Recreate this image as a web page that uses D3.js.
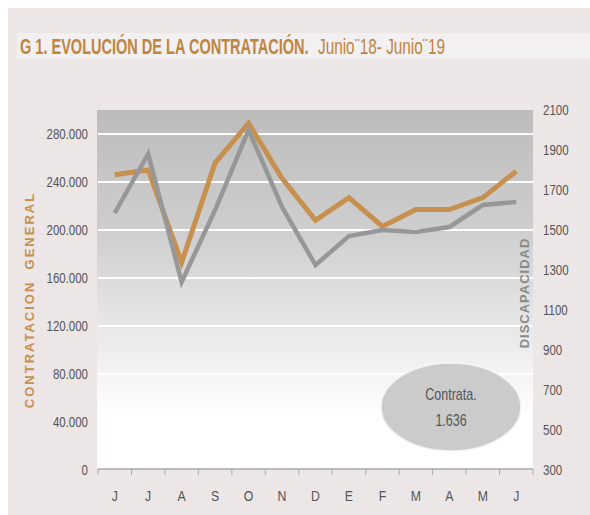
<!DOCTYPE html>
<html><head><meta charset="utf-8">
<script src="https://cdn.jsdelivr.net/npm/d3@7/dist/d3.min.js"></script>
<style>body{margin:0;background:#fff}</style>
</head><body>
<svg id="c" width="590" height="515"></svg>
<script>
const months = ["J","J","A","S","O","N","D","E","F","M","A","M","J"];
const general = [246000,250000,173000,256000,289000,243000,208000,227000,203000,217000,217000,227000,249000];
const discapacidad = [1585,1880,1240,1600,2000,1615,1325,1470,1500,1490,1515,1625,1640];
const leftTicks = [0,40000,80000,120000,160000,200000,240000,280000];
const rightTicks = [300,500,700,900,1100,1300,1500,1700,1900,2100];
const titleBold = "G 1. EVOLUCIÓN DE LA CONTRATACIÓN.";
const titleRest = "Junio¨18- Junio¨19";
const bubble = ["Contrata.","1.636"];

const svg = d3.select("#c");
const sans = "'Liberation Sans',Arial,sans-serif";
const orange = "#c8904f", gray = "#979797";

svg.append("rect").attr("x",8).attr("y",8).attr("width",582).attr("height",507).attr("fill","#ece6e6");
svg.append("rect").attr("x",17).attr("y",33).attr("width",573).attr("height",26).attr("fill","#f2f0f0");

function fitText(str, x, y, w, bold){
  const el = svg.append("text").attr("font-family",sans).attr("font-size",22)
    .attr("font-weight",bold?"bold":"normal").attr("fill","#c0843f").text(str);
  const L = el.node().getComputedTextLength();
  el.attr("transform",`translate(${x},${y}) scale(${w/L},1)`);
}
fitText(titleBold,20,54,289,true);
fitText(titleRest,318,54,127,false);

const x0=98, x1=533, yTop=110, yBot=470;
const defs = svg.append("defs");
const g = defs.append("linearGradient").attr("id","bg").attr("x1",0).attr("y1",0).attr("x2",0).attr("y2",1);
g.append("stop").attr("offset","0").attr("stop-color","#bcbcbc");
g.append("stop").attr("offset","0.35").attr("stop-color","#cfcfcf");
g.append("stop").attr("offset","0.85").attr("stop-color","#ffffff");
g.append("stop").attr("offset","1").attr("stop-color","#ffffff");
svg.append("rect").attr("x",x0-1).attr("y",yTop).attr("width",x1-x0+1).attr("height",yBot-yTop-1).attr("fill","url(#bg)");

const x = d3.scaleBand().domain(d3.range(months.length)).range([x0,x1]);
const yL = d3.scaleLinear().domain([0,300000]).range([yBot,yTop]);
const yR = d3.scaleLinear().domain([300,2100]).range([yBot,yTop]);

// gridlines
svg.append("g").selectAll("line").data(leftTicks.filter(d=>d>0)).join("line")
  .attr("x1",x0).attr("x2",x1).attr("y1",d=>yL(d)).attr("y2",d=>yL(d))
  .attr("stroke","#fff").attr("stroke-width",2);

const sx = 0.82;
// left axis labels
svg.append("g").selectAll("text").data(leftTicks).join("text")
  .attr("transform",d=>`translate(88,${yL(d)+5}) scale(${sx},1)`).attr("text-anchor","end")
  .attr("font-family",sans).attr("font-size",14).attr("fill","#555")
  .text(d=>d===0?"0":d3.format(",")(d).replace(/,/g,"."));
// right axis labels
svg.append("g").selectAll("text").data(rightTicks).join("text")
  .attr("transform",d=>`translate(543,${yR(d)+5}) scale(${sx},1)`).attr("text-anchor","start")
  .attr("font-family",sans).attr("font-size",14).attr("fill","#555")
  .text(d=>d);

// bottom axis
const ax = svg.append("g");
ax.append("line").attr("x1",x0).attr("x2",x1).attr("y1",469).attr("y2",469).attr("stroke","#aaa").attr("stroke-width",1.5);
const edges = d3.range(months.length+1).map(i=>x0+i*x.bandwidth());
ax.selectAll("line.tk").data(edges).join("line").attr("class","tk")
  .attr("x1",d=>d).attr("x2",d=>d).attr("y1",469).attr("y2",475).attr("stroke","#aaa").attr("stroke-width",1);
ax.selectAll("text").data(months).join("text")
  .attr("transform",(d,i)=>`translate(${x(i)+x.bandwidth()/2},501) scale(${sx},1)`).attr("text-anchor","middle")
  .attr("font-family",sans).attr("font-size",15).attr("fill","#555").text(d=>d);

// lines
const cx = i=>x(i)+x.bandwidth()/2;
svg.append("path").datum(general).attr("fill","none").attr("stroke",orange).attr("stroke-width",5)
  .attr("stroke-linejoin","miter").attr("d",d3.line().x((d,i)=>cx(i)).y(d=>yL(d)));
svg.append("path").datum(discapacidad).attr("fill","none").attr("stroke",gray).attr("stroke-width",4.5)
  .attr("stroke-linejoin","miter").attr("d",d3.line().x((d,i)=>cx(i)).y(d=>yR(d)));

// axis titles
svg.append("text").attr("transform","translate(34,300) rotate(-90)").attr("text-anchor","middle")
  .attr("font-family",sans).attr("font-weight","bold").attr("font-size",13)
  .attr("letter-spacing",2).attr("fill",orange).attr("xml:space","preserve").text("CONTRATACION  GENERAL");
svg.append("text").attr("transform","translate(529,293) rotate(-90)").attr("text-anchor","middle")
  .attr("font-family",sans).attr("font-weight","bold").attr("font-size",13)
  .attr("letter-spacing",1).attr("fill","#8a8a8a").text("DISCAPACIDAD");

// bubble
svg.append("ellipse").attr("cx",451).attr("cy",407).attr("rx",70).attr("ry",44)
  .attr("fill","#cbcbcb").attr("stroke","#f4f4f4").attr("stroke-width",1.5);
svg.append("g").selectAll("text").data(bubble).join("text")
  .attr("transform",(d,i)=>`translate(451,${400+i*26}) scale(0.78,1)`).attr("text-anchor","middle")
  .attr("font-family",sans).attr("font-size",16).attr("fill","#555").text(d=>d);
</script>
</body></html>
